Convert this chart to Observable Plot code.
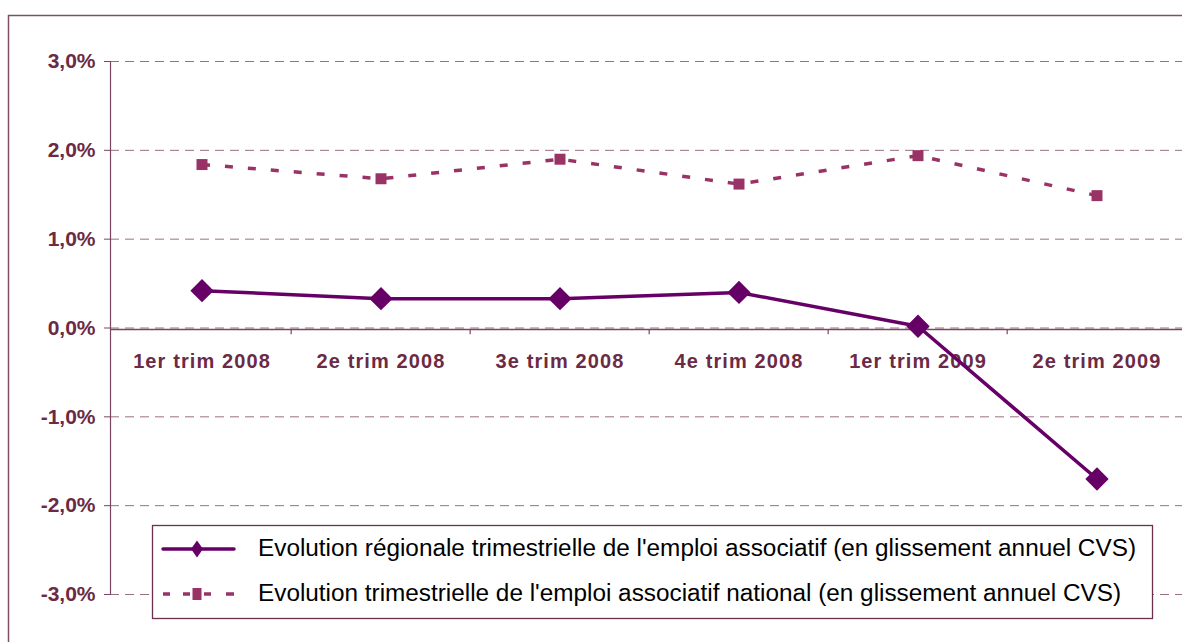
<!DOCTYPE html>
<html>
<head>
<meta charset="utf-8">
<script src="https://cdn.jsdelivr.net/npm/d3@7"></script>
<script src="https://cdn.jsdelivr.net/npm/@observablehq/plot@0.6"></script>
<style>
  html, body { margin: 0; padding: 0; background: white; }
</style>
</head>
<body>
<div id="chart"></div>
<script>
const categories = ["1er trim 2008", "2e trim 2008", "3e trim 2008", "4e trim 2008", "1er trim 2009", "2e trim 2009"];
const regional = [0.42, 0.33, 0.33, 0.40, 0.02, -1.70];
const national = [1.84, 1.68, 1.90, 1.62, 1.94, 1.49];
const seriesNames = [
  "Evolution régionale trimestrielle de l'emploi associatif (en glissement annuel CVS)",
  "Evolution trimestrielle de l'emploi associatif national (en glissement annuel CVS)"
];
const yTicks = [-3, -2, -1, 0, 1, 2, 3];

const regColor = "#660066";
const natColor = "#993366";
const labelColor = "#6b2a45";
const gridColor = "#9a6f84";
const axisColor = "#7a4462";

const regData = categories.map((c, i) => ({cat: c, v: regional[i]}));
const natData = categories.map((c, i) => ({cat: c, v: national[i]}));

const W = 1182, H = 642;
const xRange = [110, 1188];
const band = (xRange[1] - xRange[0]) / categories.length;
const fmt = d => d.toFixed(1).replace(".", ",") + "%";

const svg = Plot.plot({
  width: W,
  height: H,
  marginLeft: 110,
  marginRight: 0,
  marginTop: 61,
  marginBottom: 48,
  style: {fontFamily: "'Liberation Sans', Arial, sans-serif", background: "white", color: labelColor},
  x: {type: "band", domain: categories, range: xRange, padding: 0, axis: null},
  y: {domain: [-3, 3], axis: null},
  marks: [
    Plot.ruleY(yTicks, {stroke: gridColor, strokeWidth: 1, strokeDasharray: "9,6"}),
    Plot.frame({anchor: "left", stroke: axisColor, strokeWidth: 1.2}),
    Plot.axisY({ticks: yTicks, tickFormat: fmt, tickSize: 6, tickPadding: 9, label: null,
      fontSize: 21, fontWeight: "bold", stroke: axisColor, fill: labelColor}),
    Plot.ruleY([0], {stroke: axisColor, strokeWidth: 1.5, dy: 1.5}),
    Plot.ruleX(categories.slice(1), {x: d => d, y1: 0, y2: -0.06, dx: -band / 2, dy: 1.5, stroke: axisColor, strokeWidth: 1.2}),
    Plot.text(categories, {x: d => d, y: 0, text: d => d, dy: 34, fontSize: 20, fontWeight: "bold", fill: labelColor}),
    Plot.line(natData, {x: "cat", y: "v", stroke: natColor, strokeWidth: 3.5, strokeDasharray: "8,15", strokeLinecap: "butt", strokeLinejoin: "miter"}),
    Plot.dot(natData, {x: "cat", y: "v", symbol: "square", r: 6.2, fill: natColor, stroke: "none"}),
    Plot.line(regData, {x: "cat", y: "v", stroke: regColor, strokeWidth: 3.5}),
    Plot.dot(regData, {x: "cat", y: "v", symbol: "diamond2", r: 10.5, fill: regColor, stroke: "none"})
  ]
});

const s = d3.select(svg);
s.selectAll("text").filter(function() { return categories.includes(this.textContent); })
  .attr("letter-spacing", "1.1px");

// outer chart border
s.append("rect").attr("x", 8.5).attr("y", 15.5).attr("width", 1200).attr("height", 700)
  .attr("fill", "none").attr("stroke", "#7e5065").attr("stroke-width", 1.5);

// legend
const lg = s.append("g").attr("text-anchor", "start");
lg.append("rect").attr("x", 152.5).attr("y", 525.5).attr("width", 1000).attr("height", 93)
  .attr("fill", "white").attr("stroke", "#6b3050").attr("stroke-width", 1.3);
// row 1
lg.append("line").attr("x1", 163).attr("x2", 234).attr("y1", 549).attr("y2", 549)
  .attr("stroke", regColor).attr("stroke-width", 3.5).attr("stroke-linecap", "round");
lg.append("path").attr("d", "M197,540.5L203,549L197,557.5L191,549Z").attr("fill", regColor);
// row 2
lg.append("line").attr("x1", 163).attr("x2", 234).attr("y1", 594).attr("y2", 594)
  .attr("stroke", natColor).attr("stroke-width", 3.5).attr("stroke-dasharray", "7,13,7,14,7,15,8");
lg.append("rect").attr("x", 192.5).attr("y", 588).attr("width", 9).attr("height", 12).attr("fill", natColor);

const textLens = [878, 863];
const baselines = [556, 601];
seriesNames.forEach((name, i) => {
  lg.append("text").attr("x", 258).attr("y", baselines[i])
    .attr("text-anchor", "start")
    .attr("font-size", 23).attr("fill", "#000")
    .attr("font-family", "'Liberation Sans', Arial, sans-serif")
    .attr("textLength", textLens[i]).attr("lengthAdjust", "spacingAndGlyphs")
    .text(name);
});

document.getElementById("chart").appendChild(svg);
</script>
</body>
</html>
